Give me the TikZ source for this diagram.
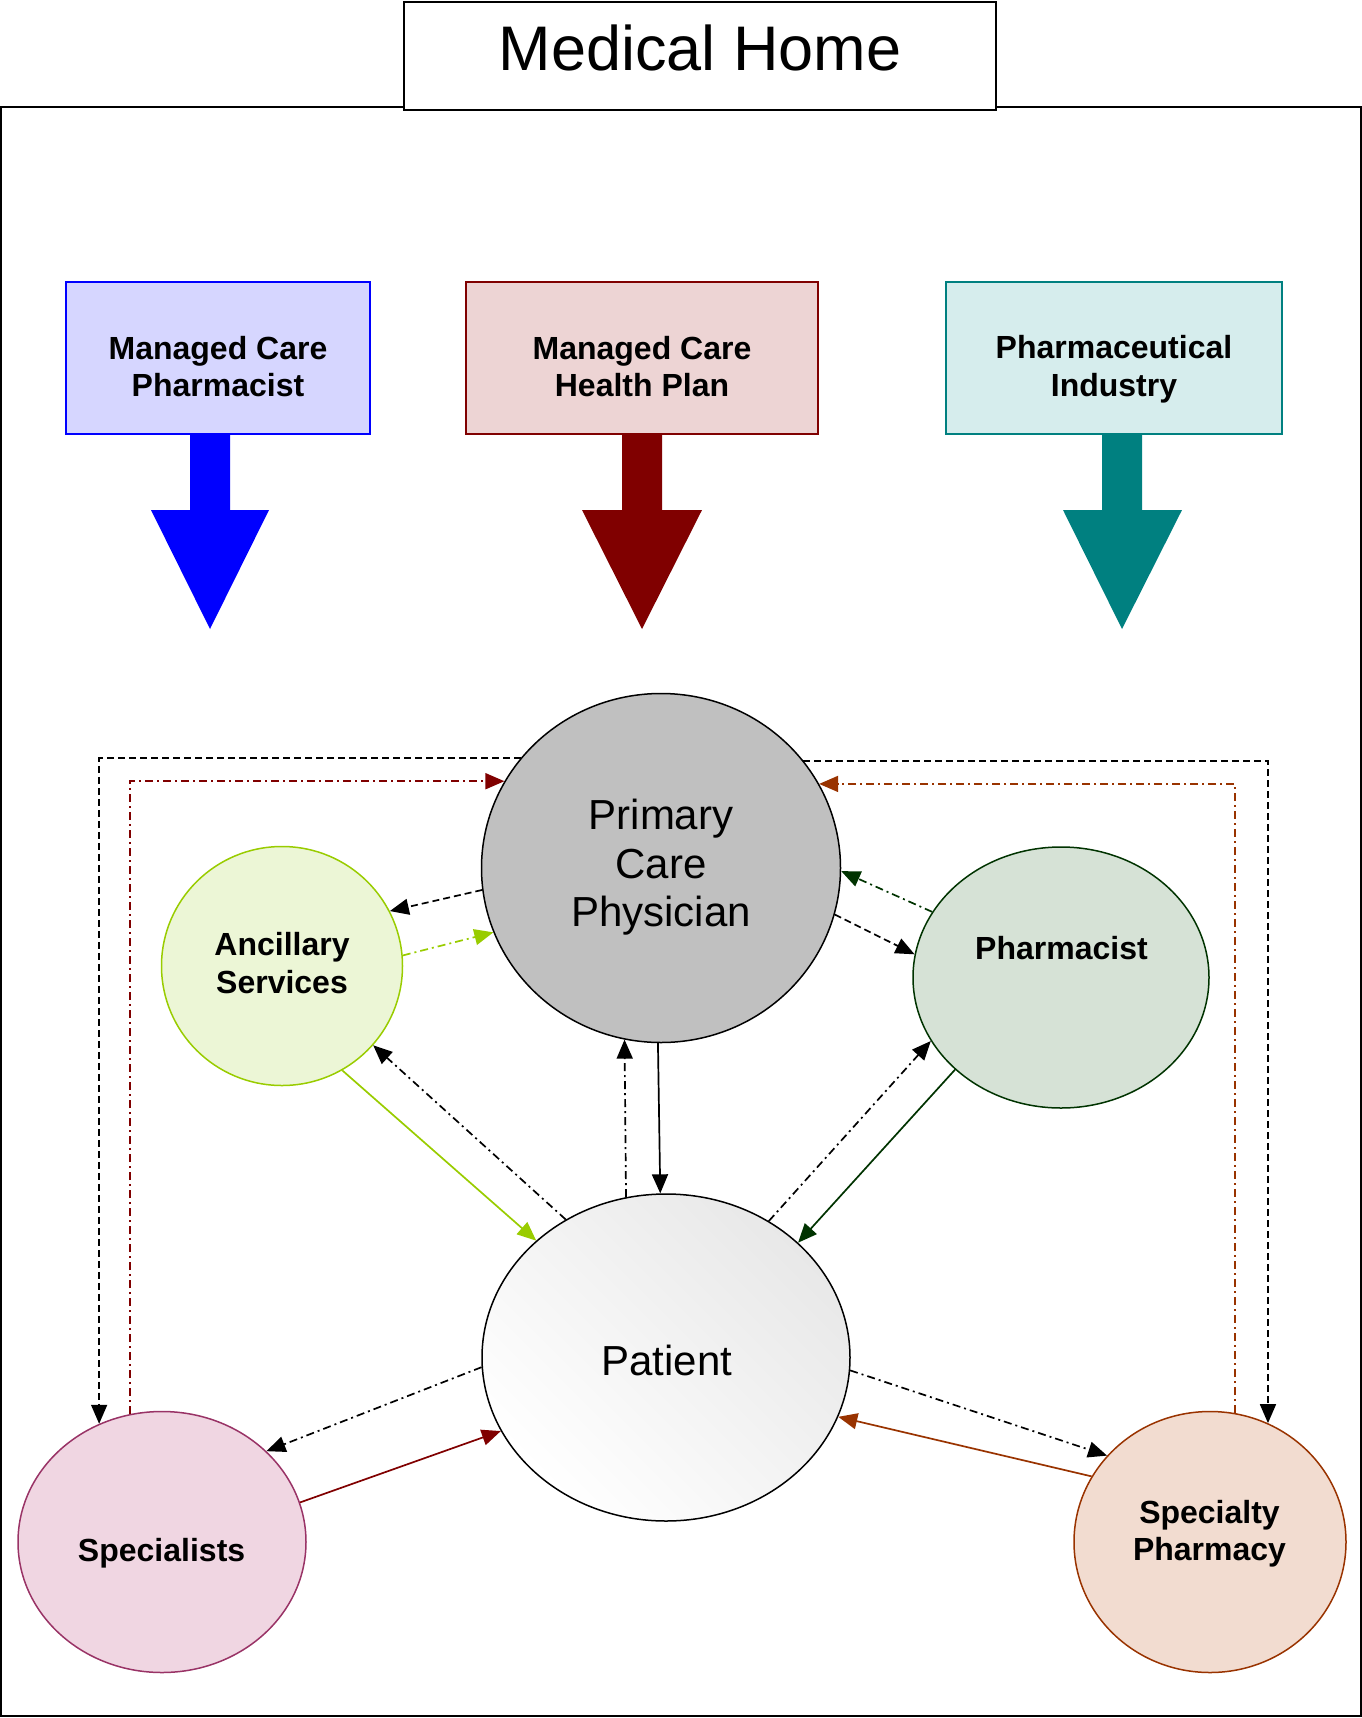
\documentclass[tikz,border=0pt]{standalone}
\usepackage{fontspec}
\setmainfont{Liberation Sans}
\usetikzlibrary{shapes.geometric,arrows.meta}
\definecolor{mcblue}{RGB}{0,0,255}
\definecolor{mcred}{RGB}{128,0,0}
\definecolor{mcteal}{RGB}{0,128,128}
\definecolor{fillblue}{RGB}{214,214,255}
\definecolor{fillred}{RGB}{237,212,212}
\definecolor{fillteal}{RGB}{214,237,237}
\definecolor{ancline}{RGB}{153,204,0}
\definecolor{ancfill}{RGB}{236,246,214}
\definecolor{phline}{RGB}{0,51,0}
\definecolor{phfill}{RGB}{214,226,214}
\definecolor{spline}{RGB}{153,51,102}
\definecolor{spfill}{RGB}{240,214,226}
\definecolor{syline}{RGB}{153,51,0}
\definecolor{syfill}{RGB}{242,220,208}
\definecolor{pcpfill}{RGB}{192,192,192}
\begin{document}
\begin{tikzpicture}[x=1pt,y=-1pt,
  topbox/.style={draw, line width=1.5pt, minimum height=152pt, inner sep=0pt},
  bubble/.style={ellipse, draw, line width=1.5pt, inner sep=0pt},
  lbl/.style={font=\fontsize{32}{37.5}\selectfont\bfseries, align=center, anchor=base, inner sep=0pt},
  biglbl/.style={font=\fontsize{42}{48.7}\selectfont, align=center, anchor=base, inner sep=0pt},
  conn/.style={line width=1.7pt, -{Triangle[length=19pt,width=16pt]}},
  dsh/.style={dash pattern=on 7pt off 4pt},
  dshdot/.style={dash pattern=on 8pt off 4pt on 2pt off 4pt}]
\useasboundingbox (0,0) rectangle (1362,1718);
% frame
\draw[line width=2pt] (1,107) rectangle (1361,1716);
\node[draw, fill=white, line width=2pt, minimum width=592pt, minimum height=108pt, inner sep=0pt] (title) at (700,56) {};
\node[font=\fontsize{63}{70}\selectfont, anchor=base, inner sep=0pt] (titletext) at (700,71) {Medical Home};
% top boxes
\node[topbox, draw=mcblue, fill=fillblue, minimum width=304pt] (b1) at (218,358) {};
\node[topbox, draw=mcred, fill=fillred, minimum width=352pt] (b2) at (642,358) {};
\node[topbox, draw=mcteal, fill=fillteal, minimum width=336pt] (b3) at (1114,358) {};
\node[lbl] (b1t) at (218,396.5) {Managed Care\\Pharmacist};
\node[lbl] (b2t) at (642,396.5) {Managed Care\\Health Plan};
\node[lbl] (b3t) at (1114,396) {Pharmaceutical\\Industry};
% block arrows
\fill[mcblue] (190,434) -- (190,510) -- (151,510) -- (210,629) -- (269,510) -- (230,510) -- (230,434) -- cycle;
\fill[mcred] (622,434) -- (622,510) -- (582,510) -- (642,629) -- (702,510) -- (662,510) -- (662,434) -- cycle;
\fill[mcteal] (1102,434) -- (1102,510) -- (1063,510) -- (1122,629) -- (1182,510) -- (1142,510) -- (1142,434) -- cycle;
% bubbles
\node[bubble, fill=pcpfill, minimum width=359pt, minimum height=349pt] (pcp) at (661,868) {};
\node[bubble, draw=ancline, fill=ancfill, minimum width=241pt, minimum height=239pt] (anc) at (282,966) {};
\node[bubble, draw=phline, fill=phfill, minimum width=296pt, minimum height=261pt] (pha) at (1061,977.5) {};
\node[bubble, top color=white, bottom color={rgb,255:red,232;green,232;blue,232}, shading angle=135, minimum width=368pt, minimum height=327pt] (pat) at (666,1357.5) {};
\node[bubble, draw=spline, fill=spfill, minimum width=288pt, minimum height=261pt] (spe) at (162,1542) {};
\node[bubble, draw=syline, fill=syfill, minimum width=272pt, minimum height=261pt] (spy) at (1210,1542) {};
% bubble texts
\node[biglbl] (pcpt) at (661,926.7) {Primary\\Care\\Physician};
\node[biglbl] (patt) at (667,1375.7) {Patient};
\node[lbl] (anct) at (282,993.3) {Ancillary\\Services};
\node[lbl] (phat) at (1061.5,959) {Pharmacist};
\node[lbl] (spet) at (161.6,1561) {Specialists};
\node[lbl] (spyt) at (1209.5,1560.7) {Specialty\\Pharmacy};
% outer loops
\draw[conn, dsh] (pcp.142.55) -| (spe.118.9);
\draw[conn, dsh] (pcp.37.45) -| (spy.64.8);
\draw[conn, dshdot, mcred] (spe.104.1) |- (pcp.151.2);
\draw[conn, dshdot, syline] (spy.79.4) |- (pcp.28.84);
% PCP - ancillary / pharmacist
\draw[conn, dsh] (pcp.187.35) -- (anc.27.4);
\draw[conn, dshdot, ancline] (anc.5.2) -- (pcp.201.6);
\draw[conn, dshdot, phline] (pha.153.3) -- (pcp.359);
\draw[conn, dsh] (pcp.345.7) -- (pha.171.3);
% patient links
\draw[conn, dshdot] (pat.126.3) -- (anc.319.1);
\draw[conn, ancline] (anc.300) -- (pat.138.5);
\draw[conn, dshdot] (pat.104.1) -- (pcp.258.45);
\draw[conn] (pcp.269) -- (pat.92.8);
\draw[conn, dshdot] (pat.53.75) -- (pha.206.4);
\draw[conn, phline] (pha.221.1) -- (pat.41.5);
\draw[conn, dshdot] (pat.183.3) -- (spe.41.9);
\draw[conn, mcred] (spe.16.7) -- (pat.204.4);
\draw[conn, dshdot] (pat.356.4) -- (spy.140.4);
\draw[conn, syline] (spy.151.4) -- (pat.341.9);
\end{tikzpicture}
\end{document}
